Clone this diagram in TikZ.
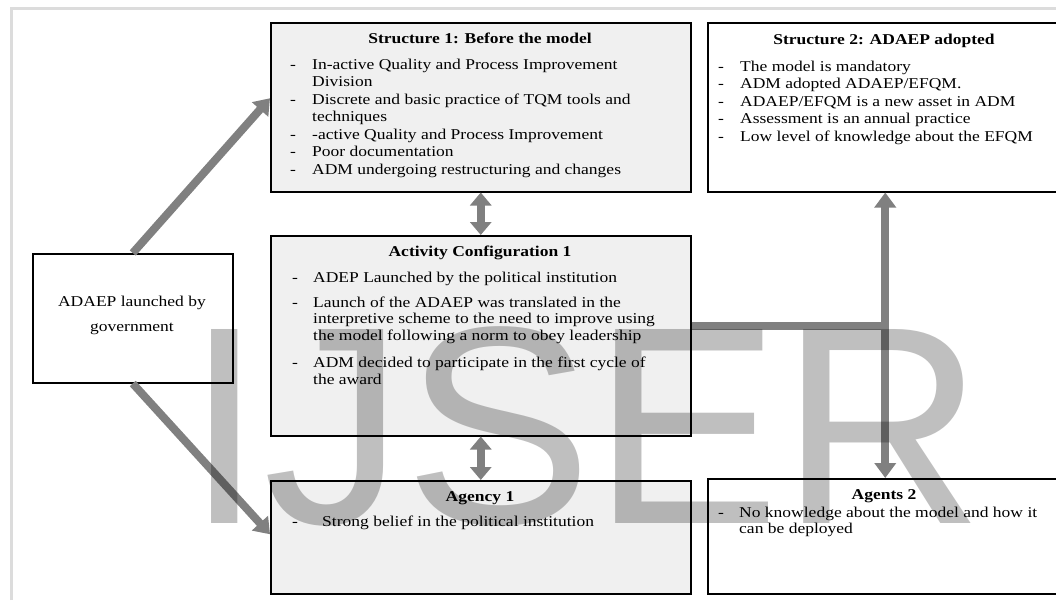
\documentclass[tikz,border=0pt]{standalone}
\usepackage{fontspec}
\setmainfont{Liberation Serif}[FakeStretch=1.167]
\newfontfamily\wmfont{Liberation Sans}
\usetikzlibrary{arrows.meta}
\definecolor{boxgray}{HTML}{F0F0F0}
\definecolor{arrgray}{HTML}{808080}
\definecolor{framegray}{HTML}{DCDCDC}
\tikzset{
  box/.style={draw=black, line width=1.5pt, inner sep=0pt, anchor=north west},
  graybox/.style={box, fill=boxgray},
  whitebox/.style={box, fill=white},
  ttl/.style={anchor=base, inner sep=0pt, font=\fontsize{15}{17.5}\selectfont\bfseries},
  lst/.style={anchor=base west, inner sep=0pt, font=\fontsize{15}{17.5}\selectfont},
  conn/.style={draw=arrgray, line width=8pt},
  arr/.style={conn, -{Triangle[width=21pt,length=15pt]}},
  darr/.style={conn, {Triangle[width=21pt,length=13pt]}-{Triangle[width=21pt,length=13pt]}},
}
\begin{document}
\begin{tikzpicture}[x=1pt,y=-1pt]
\useasboundingbox (0,0) rectangle (1056,600);
\clip (0,0) rectangle (1056,600);
\fill[white] (0,0) rectangle (1056,600);
\draw[framegray, line width=3pt] (11,600) -- (11,8) -- (1056,8);

% boxes
\node[graybox, minimum width=420pt, minimum height=169pt] (S1) at (270,22) {};
\node[whitebox, minimum width=355pt, minimum height=169pt] (S2) at (707,22) {};
\node[graybox, minimum width=420pt, minimum height=200pt] (AC) at (270,235) {};
\node[graybox, minimum width=420pt, minimum height=113pt] (Ag1) at (270,480) {};
\node[whitebox, minimum width=355pt, minimum height=115pt] (Ag2) at (707,478) {};
\node[whitebox, minimum width=200pt, minimum height=129pt] (AD) at (32,253) {};

% titles
\node[ttl] (S1t) at (480,43) {Structure 1: Before the model};
\node[ttl] (S2t) at (884,44) {Structure 2: ADAEP adopted};
\node[ttl] (ACt) at (480,256) {Activity Configuration 1};
\node[ttl] (Ag1t) at (480,501) {Agency 1};
\node[ttl] (Ag2t) at (884,499) {Agents 2};

% lists
\node[lst] (S1l) at (290,69) {\begin{tabular}[t]{@{}p{22pt}@{}l@{}}
- & In-active Quality and Process Improvement\\
  & Division\\
- & Discrete and basic practice of TQM tools and\\
  & techniques\\
- & -active Quality and Process Improvement\\
- & Poor documentation\\
- & ADM undergoing restructuring and changes
\end{tabular}};
\node[lst] (S2l) at (718,71) {\begin{tabular}[t]{@{}p{22pt}@{}l@{}}
- & The model is mandatory\\
- & ADM adopted ADAEP/EFQM.\\
- & ADAEP/EFQM is a new asset in ADM\\
- & Assessment is an annual practice\\
- & Low level of knowledge about the EFQM
\end{tabular}};
\node[lst, font=\fontsize{15}{16.5}\selectfont] (ACl) at (292,282) {\begin{tabular}[t]{@{}p{21pt}@{}l@{}}
- & ADEP Launched by the political institution\\[8.5pt]
- & Launch of the ADAEP was translated in the\\
  & interpretive scheme to the need to improve using\\
  & the model following a norm to obey leadership\\[11pt]
- & ADM decided to participate in the first cycle of\\
  & the award
\end{tabular}};
\node[lst] (Ag1l) at (292,526) {\begin{tabular}[t]{@{}p{30pt}@{}l@{}}
- & Strong belief in the political institution
\end{tabular}};
\node[lst, font=\fontsize{15}{16}\selectfont] (Ag2l) at (718,517) {\begin{tabular}[t]{@{}p{21pt}@{}l@{}}
- & No knowledge about the model and how it\\
  & can be deployed
\end{tabular}};
\node[lst, anchor=base] (ADt) at (132,306) {\begin{tabular}[t]{@{}c@{}}
ADAEP launched by\\[7.5pt]
government
\end{tabular}};

% connectors
\draw[arr] (AD.north) -- ([yshift=9pt]S1.west);
\draw[arr] (AD.south) -- ([yshift=3pt]Ag1.west);
\draw[darr] (S1.south) -- (AC.north);
\draw[darr] (AC.south) -- (Ag1.north);
\coordinate (J) at ([yshift=10pt]AC.east -| S2.south);
\draw[conn] ([yshift=10pt]AC.east) -- ([xshift=4pt]J);
\draw[arr] (J) -- (S2.south);
\draw[arr] (J) -- (Ag2.north);

% watermark
\node[anchor=base west, inner sep=0pt, font=\wmfont\fontsize{282}{282}\selectfont, text=black, text opacity=0.25] (wm) at (185,523) {IJSER};
\end{tikzpicture}
\end{document}
